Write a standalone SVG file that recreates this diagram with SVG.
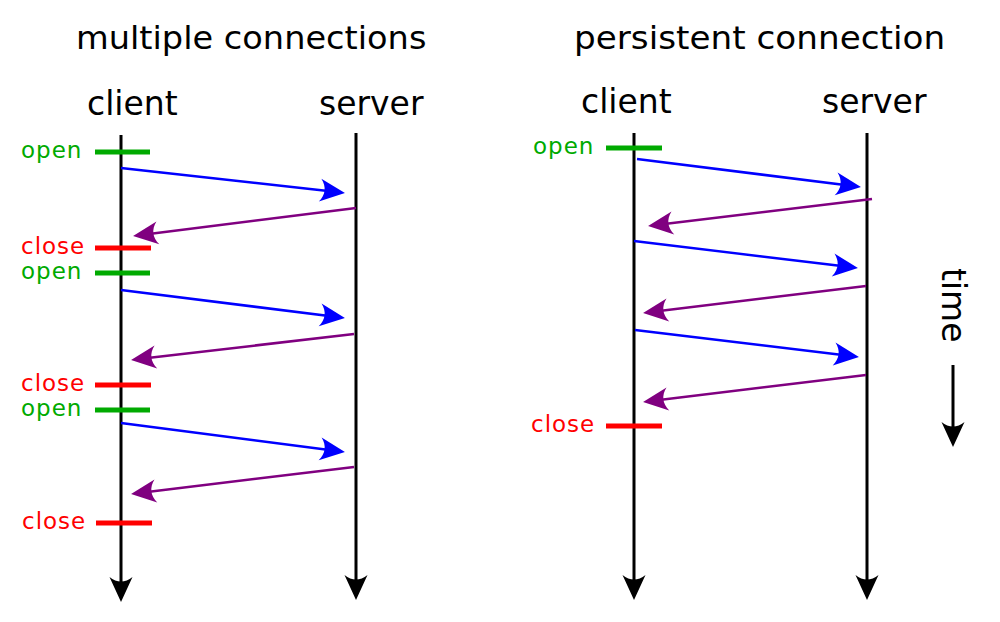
<svg xmlns="http://www.w3.org/2000/svg" width="1000" height="622" viewBox="0 0 1000 622">
<style>
.h{font-family:"DejaVu Sans",sans-serif;font-size:33px;fill:#000}
.t{font-family:"DejaVu Sans",sans-serif;font-size:32px;fill:#000}
.lb{font-family:"DejaVu Sans",sans-serif;font-size:23px;letter-spacing:1px}
.op{fill:#00aa00}
.cl{fill:#ff0000}
.life{stroke:#000;stroke-width:3;fill:none;marker-end:url(#ak)}
.req{stroke:#0000ff;stroke-width:2.5;fill:none;marker-end:url(#ab)}
.rsp{stroke:#800080;stroke-width:2.5;fill:none;marker-end:url(#ap)}
.bo{stroke:#00aa00;stroke-width:5}
.bc{stroke:#ff0000;stroke-width:5}
</style>
<defs>
<marker id="ak" markerUnits="userSpaceOnUse" markerWidth="40" markerHeight="40" refX="0" refY="0" viewBox="-20 -15 40 30" orient="auto" overflow="visible"><path d="M8,0 L-17,-11.5 C-11,-4 -11,4 -17,11.5 Z" fill="#000"/></marker>
<marker id="ab" markerUnits="userSpaceOnUse" markerWidth="40" markerHeight="40" refX="0" refY="0" viewBox="-20 -15 40 30" orient="auto" overflow="visible"><path d="M8,0 L-17,-11.5 C-11,-4 -11,4 -17,11.5 Z" fill="#0000ff"/></marker>
<marker id="ap" markerUnits="userSpaceOnUse" markerWidth="40" markerHeight="40" refX="0" refY="0" viewBox="-20 -15 40 30" orient="auto" overflow="visible"><path d="M8,0 L-17,-11.5 C-11,-4 -11,4 -17,11.5 Z" fill="#800080"/></marker>
</defs>
<g id="titles">
<text class="t" transform="translate(76,49) scale(1.05,1)">multiple connections</text>
<text class="t" transform="translate(574,49) scale(1.07,1)">persistent connection</text>
</g>
<g id="left-client">
<text class="h" x="87" y="115">client</text>
<line class="life" x1="121" y1="135" x2="121" y2="594"/>
</g>
<g id="left-server">
<text class="h" x="319" y="115">server</text>
<line class="life" x1="356" y1="133" x2="356" y2="592"/>
</g>
<g id="right-client">
<text class="h" x="581" y="113">client</text>
<line class="life" x1="634" y1="133" x2="634" y2="592"/>
</g>
<g id="right-server">
<text class="h" x="822" y="113">server</text>
<line class="life" x1="867" y1="133" x2="867" y2="592"/>
</g>
<g id="time">
<text class="h" transform="translate(942,268) rotate(90)" x="0" y="0">time</text>
<line class="life" x1="953" y1="365" x2="953" y2="439"/>
</g>
<g id="left-markers">
<line class="bo" x1="95" y1="152" x2="150" y2="152"/><text class="lb op" x="21" y="158">open</text>
<line class="bc" x1="95" y1="248" x2="151" y2="248"/><text class="lb cl" x="21" y="254">close</text>
<line class="bo" x1="95" y1="273" x2="150" y2="273"/><text class="lb op" x="21" y="279">open</text>
<line class="bc" x1="95" y1="385" x2="151" y2="385"/><text class="lb cl" x="21" y="391">close</text>
<line class="bo" x1="95" y1="410" x2="150" y2="410"/><text class="lb op" x="21" y="416">open</text>
<line class="bc" x1="96" y1="523" x2="152" y2="523"/><text class="lb cl" x="22" y="529">close</text>
</g>
<g id="right-markers">
<line class="bo" x1="606" y1="148" x2="662" y2="148"/><text class="lb op" x="533" y="154">open</text>
<line class="bc" x1="606" y1="426" x2="662" y2="426"/><text class="lb cl" x="531" y="432">close</text>
</g>
<g id="connectors">
<line class="req" x1="121" y1="168" x2="337" y2="192"/>
<line class="rsp" x1="356" y1="208" x2="141" y2="235"/>
<line class="req" x1="121" y1="290" x2="337" y2="317"/>
<line class="rsp" x1="354" y1="334" x2="139" y2="359"/>
<line class="req" x1="121" y1="423" x2="337" y2="451"/>
<line class="rsp" x1="354" y1="467" x2="139" y2="493"/>
<line class="req" x1="637" y1="159" x2="853" y2="186"/>
<line class="rsp" x1="872" y1="199" x2="656" y2="225"/>
<line class="req" x1="634" y1="241" x2="850" y2="267"/>
<line class="rsp" x1="866" y1="286" x2="651" y2="312"/>
<line class="req" x1="635" y1="330" x2="851" y2="356"/>
<line class="rsp" x1="866" y1="375" x2="651" y2="401"/>
</g>
</svg>
